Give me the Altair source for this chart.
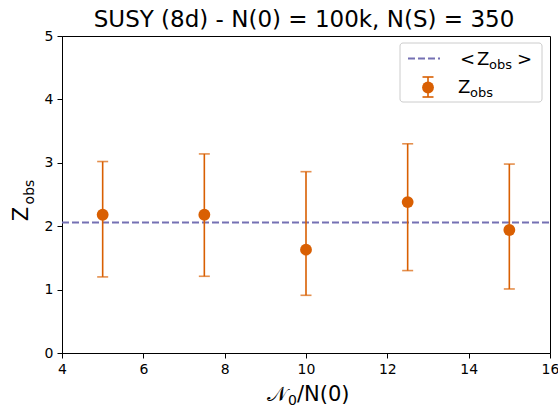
import altair as alt
import pandas as pd

x_vals = [5, 7.5, 10, 12.5, 15]
z_obs = [2.18, 2.18, 1.63, 2.38, 1.94]
z_low = [1.20, 1.21, 0.91, 1.30, 1.01]
z_high = [3.02, 3.14, 2.86, 3.30, 2.98]
z_mean = [2.06]

ORANGE = "#d95f02"
PURPLE = "#7570b3"
FONT = "DejaVu Sans"
W, H = 488, 317

df = pd.DataFrame({"x": x_vals, "z": z_obs, "lo": z_low, "hi": z_high})
dmean = pd.DataFrame({"m": z_mean})

xs = alt.Scale(domain=[4, 16], nice=False, zero=False)
ys = alt.Scale(domain=[0, 5], nice=False)
xax = alt.Axis(values=[4, 6, 8, 10, 12, 14, 16], title=None, labelFontSize=14, format="d",
               labelPadding=4, labelFlush=False, labelOverlap=False)
yax = alt.Axis(values=[0, 1, 2, 3, 4, 5], title=None, labelFontSize=14, format="d",
               labelPadding=4, labelFlush=False, labelOverlap=False)

mean_line = alt.Chart(dmean).mark_rule(color=PURPLE, strokeWidth=2, strokeDash=[7, 3]).encode(
    y=alt.Y("m:Q", scale=ys, axis=yax), x=alt.value(0), x2=alt.value(W)
)

bars = alt.Chart(df).mark_rule(color=ORANGE, strokeWidth=1.6).encode(
    x=alt.X("x:Q", scale=xs, axis=xax), y=alt.Y("lo:Q", scale=ys), y2="hi:Q"
)
cap_lo = alt.Chart(df).mark_tick(color=ORANGE, orient="horizontal", size=11, thickness=1.6).encode(
    x=alt.X("x:Q", scale=xs), y=alt.Y("lo:Q", scale=ys)
)
cap_hi = alt.Chart(df).mark_tick(color=ORANGE, orient="horizontal", size=11, thickness=1.6).encode(
    x=alt.X("x:Q", scale=xs), y=alt.Y("hi:Q", scale=ys)
)
pts = alt.Chart(df).mark_point(filled=True, color=ORANGE, size=140, opacity=1, shape="circle").encode(
    x=alt.X("x:Q", scale=xs), y=alt.Y("z:Q", scale=ys)
)

def txt(text, x, y, size, align="left", baseline="alphabetic", angle=0, font=FONT, style="normal"):
    return alt.Chart(pd.DataFrame({"t": [text]})).mark_text(
        align=align, baseline=baseline, fontSize=size, font=font, angle=angle,
        color="black", fontStyle=style
    ).encode(text="t:N", x=alt.value(x), y=alt.value(y))

# legend box
lbox = alt.Chart(pd.DataFrame({"a": [0]})).mark_rect(
    fill="white", fillOpacity=0.8, stroke="#cccccc", strokeWidth=1, cornerRadius=3
).encode(x=alt.value(338), x2=alt.value(480), y=alt.value(7), y2=alt.value(66))
l_dash = alt.Chart(pd.DataFrame({"a": [0]})).mark_rule(color=PURPLE, strokeWidth=2, strokeDash=[7, 3]).encode(
    x=alt.value(346), x2=alt.value(378), y=alt.value(22.5)
)
l_bar = alt.Chart(pd.DataFrame({"a": [0]})).mark_rule(color=ORANGE, strokeWidth=1.6).encode(
    x=alt.value(366), y=alt.value(41), y2=alt.value(61)
)
l_cap1 = alt.Chart(pd.DataFrame({"a": [0]})).mark_rule(color=ORANGE, strokeWidth=1.6).encode(
    x=alt.value(360.5), x2=alt.value(371.5), y=alt.value(41)
)
l_cap2 = alt.Chart(pd.DataFrame({"a": [0]})).mark_rule(color=ORANGE, strokeWidth=1.6).encode(
    x=alt.value(360.5), x2=alt.value(371.5), y=alt.value(61)
)
l_pt = alt.Chart(pd.DataFrame({"a": [0]})).mark_point(filled=True, color=ORANGE, size=140, opacity=1).encode(
    x=alt.value(366), y=alt.value(51.5)
)

texts = [
    txt("SUSY (8d) - N(0) = 100k, N(S) = 350", 242, -9, 23, align="center"),
    # legend texts
    txt("<", 398, 28.5, 18),
    txt("Z", 415, 28.5, 18),
    txt("obs", 427, 32.5, 13),
    txt(">", 455, 28.5, 18),
    txt("Z", 396, 57, 18),
    txt("obs", 408, 61, 13),
    # x-axis title
    txt("\U0001D4A9", 225, 365, 21, align="right"),
    txt("0", 226, 369, 14),
    txt("/N(0)", 235, 365, 21),
    # y-axis title
    txt("Z", -40, 178, 21, align="center", baseline="middle", angle=270),
    txt("obs", -32, 156, 14, align="center", baseline="middle", angle=270),
]

chart = alt.layer(
    mean_line, bars, cap_lo, cap_hi, pts, lbox, l_dash, l_bar, l_cap1, l_cap2, l_pt, *texts
).properties(
    width=W, height=H,
    autosize=alt.AutoSizeParams(type="none"),
    padding={"left": 62, "top": 36, "right": 8, "bottom": 55},
).configure_view(stroke="black", strokeWidth=1).configure_axis(
    domainColor="black", tickColor="black", labelColor="black", grid=False,
    tickSize=5, labelFont=FONT, domainWidth=1, tickWidth=1
)

chart.save("out.html", embed_options={"renderer": "svg", "actions": False})
